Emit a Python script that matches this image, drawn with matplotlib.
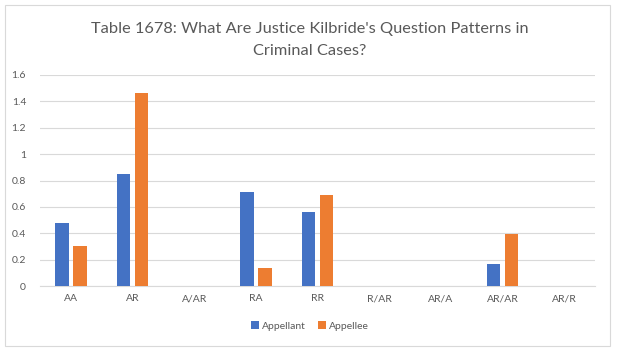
import matplotlib
matplotlib.use("Agg")
import matplotlib.pyplot as plt
import numpy as np
from matplotlib.patches import Rectangle

categories = ["AA", "AR", "A/AR", "RA", "RR", "R/AR", "AR/A", "AR/AR", "AR/R"]
appellant = [0.475, 0.846, 0, 0.714, 0.563, 0, 0, 0.17, 0]
appellee = [0.30, 1.46, 0, 0.14, 0.69, 0, 0, 0.394, 0]
yticks = [0, 0.2, 0.4, 0.6, 0.8, 1, 1.2, 1.4, 1.6]
ytick_labels = ["0", "0.2", "0.4", "0.6", "0.8", "1", "1.2", "1.4", "1.6"]
title = "Table 1678: What Are Justice Kilbride's Question Patterns in\nCriminal Cases?"

plt.rcParams['font.family'] = ['Lato', 'DejaVu Sans']
fig = plt.figure(figsize=(6.2, 3.54), dpi=100)
fig.patch.set_facecolor("white")
fig.add_artist(Rectangle((5/620, 1 - 346/354), 605/620, 341/354, transform=fig.transFigure,
                         fill=False, edgecolor="#d9d9d9", linewidth=0.8))

ax = fig.add_axes([40/620, 1 - 286/354, 555/620, 211/354])
x = np.arange(len(categories))
w = 0.225
off = 0.145
ax.bar(x - off, appellant, w, color="#4472c4", label="Appellant", zorder=3)
ax.bar(x + off, appellee, w, color="#ed7d31", label="Appellee", zorder=3)
ax.set_xlim(-0.5, len(categories) - 0.5)
ax.set_ylim(0, 1.6)
ax.set_yticks(yticks)
ax.set_yticklabels(ytick_labels)
ax.set_xticks(x)
ax.set_xticklabels(categories)
ax.grid(axis="y", color="#d9d9d9", linewidth=0.8, zorder=0)
for s in ["top", "right", "left"]:
    ax.spines[s].set_visible(False)
ax.spines["bottom"].set_color("#d9d9d9")
ax.tick_params(axis="both", length=0, labelsize=7.5, colors="#595959", pad=6)
ax.tick_params(axis="y", pad=10)

fig.text(0.5, 1 - 40/354, title, ha="center", va="center", fontsize=11.8,
         color="#595959", linespacing=1.65)
fig.legend(loc="center", bbox_to_anchor=(0.5, 1 - 326/354), ncol=2, frameon=False,
           fontsize=7.5, labelcolor="#595959", handlelength=0.7, handleheight=0.7,
           handletextpad=0.3, columnspacing=1.2)
fig.savefig("out.png", dpi=100, facecolor="white")
